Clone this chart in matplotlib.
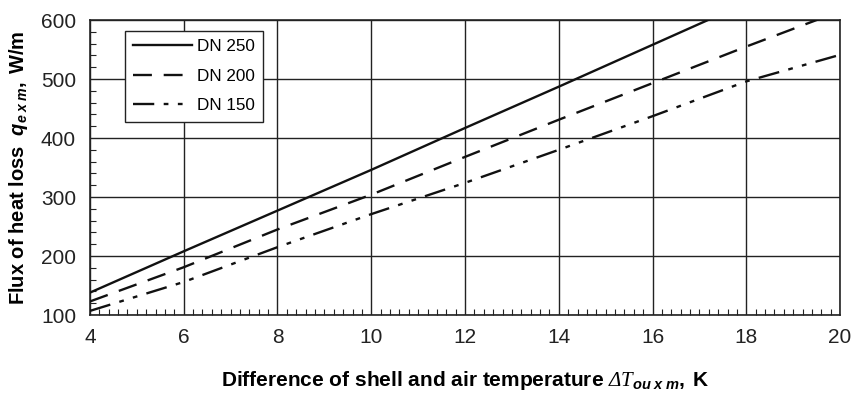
import matplotlib
matplotlib.use("Agg")
import matplotlib.pyplot as plt
from matplotlib.ticker import MultipleLocator

plt.rcParams['font.family'] = ['Liberation Sans', 'DejaVu Sans']
plt.rcParams['mathtext.fontset'] = 'custom'
plt.rcParams['mathtext.it'] = 'Liberation Serif:italic'
plt.rcParams['mathtext.cal'] = 'Liberation Serif:italic'
plt.rcParams['mathtext.rm'] = 'Liberation Sans:bold'
plt.rcParams['mathtext.sf'] = 'Liberation Sans:italic:bold'
plt.rcParams['mathtext.bf'] = 'Liberation Sans:italic:bold'

# Data
dT = [4, 6, 8, 10, 12, 14, 16, 18, 20]
dn250 = [138, 208, 277, 346, 417, 487, 558, 629, 700]
dn200 = [123, 181, 245, 304, 368, 431, 493, 555, 615]
dn150 = [107, 156, 215, 271, 324, 380, 437, 496, 541]
labels = ["DN 250", "DN 200", "DN 150"]
xticks = [4, 6, 8, 10, 12, 14, 16, 18, 20]
yticks = [100, 200, 300, 400, 500, 600]

fig = plt.figure(figsize=(8.52, 3.97), dpi=100)
ax = fig.add_axes([0.1056, 0.2065, 0.8804, 0.7431])

lw = 1.7
ax.plot(dT, dn250, color='#111111', lw=lw, linestyle='-', label=labels[0], zorder=3)
ax.plot(dT, dn200, color='#111111', lw=lw, linestyle=(0, (8, 5)), label=labels[1], zorder=3)
ax.plot(dT, dn150, color='#111111', lw=lw, linestyle=(0, (9, 4, 2, 4, 2, 4)), label=labels[2], zorder=3)

ax.set_xlim(4, 20)
ax.set_ylim(100, 600)
ax.set_xticks(xticks)
ax.set_yticks(yticks)
ax.xaxis.set_minor_locator(MultipleLocator(0.2))
ax.yaxis.set_minor_locator(MultipleLocator(20))
ax.grid(True, which='major', color='#222222', lw=1.0)
ax.tick_params(which='major', length=0, labelsize=15, pad=9, colors='#222222')
ax.tick_params(axis='y', which='major', pad=10)
ax.tick_params(which='minor', direction='in', length=4, width=0.8, color='#222222',
               top=False, right=False)
for s in ax.spines.values():
    s.set_color('#222222')
    s.set_linewidth(1.2)

ax.set_xlabel(r"Difference of shell and air temperature $\mathcal{Δ}\mathit{T}_{\mathsf{ou\ x\ m}}$$\mathrm{,\ K}$",
              fontsize=15, fontweight='bold', labelpad=16)
ax.set_ylabel(r"Flux of heat loss  $\mathsf{q}_{\mathsf{e\ x\ m}}$$\mathrm{,\ W/m}$",
              fontsize=14.5, fontweight='bold', labelpad=8)

leg = ax.legend(loc='upper left', bbox_to_anchor=(0.042, 0.975), fontsize=12.3,
                frameon=True, fancybox=False, edgecolor='#222222', framealpha=1,
                handlelength=3.4, borderpad=0.5, labelspacing=0.85, handletextpad=0.3,
                borderaxespad=0.2)
leg.get_frame().set_linewidth(1.0)

fig.savefig("out.png", dpi=100)
